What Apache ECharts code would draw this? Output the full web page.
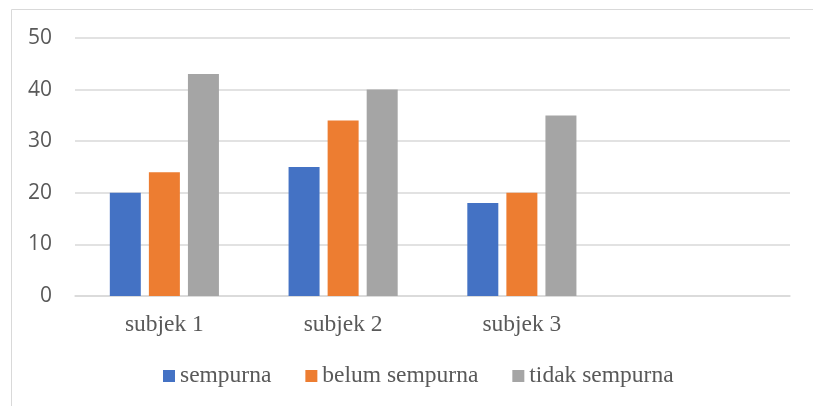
<!DOCTYPE html>
<html><head><meta charset="utf-8">
<script src="https://cdn.jsdelivr.net/npm/echarts@6/dist/echarts.min.js"></script>
<style>html,body{margin:0;padding:0;background:#fff}#c{width:813px;height:406px}</style>
</head><body><div id="c"></div>
<script>
var categories = ['subjek 1', 'subjek 2', 'subjek 3', ''];
var sempurna = [20, 25, 18, null];
var belumSempurna = [24, 34, 20, null];
var tidakSempurna = [43, 40, 35, null];
var seriesNames = ['sempurna', 'belum sempurna', 'tidak sempurna'];
var colors = ['#4472C4', '#ED7D31', '#A5A5A5'];

var chart = echarts.init(document.getElementById('c'));
var mk = function (name, data, color) {
  return { name: name, type: 'bar', data: data, itemStyle: { color: color },
    barWidth: 31, barGap: '26%', barCategoryGap: '39%' };
};
chart.setOption({
  animation: false,
  graphic: [{ type: 'rect', shape: { x: 11.5, y: 9.5, width: 830, height: 420 },
    style: { fill: 'none', stroke: '#D9D9D9', lineWidth: 1 }, silent: true }],
  grid: { left: 75, right: 23, top: 38, bottom: 110, containLabel: false },
  legend: {
    data: seriesNames, top: 364, left: 163, padding: 0, itemWidth: 12, itemHeight: 12, itemGap: 34,
    icon: 'rect',
    textStyle: { fontFamily: '"Liberation Serif", "Times New Roman", serif', fontSize: 23.5, color: '#595959' }
  },
  xAxis: {
    type: 'category', data: categories,
    axisLine: { lineStyle: { color: '#D9D9D9', width: 1.5 } },
    axisTick: { show: false },
    axisLabel: { fontFamily: '"Liberation Serif", "Times New Roman", serif', fontSize: 23.5, color: '#595959', margin: 17 }
  },
  yAxis: {
    type: 'value', min: 0, max: 50, interval: 10,
    axisLine: { show: false }, axisTick: { show: false },
    splitLine: { lineStyle: { color: '#D9D9D9', width: 1.5 } },
    axisLabel: { fontFamily: 'Open Sans', fontSize: 21, color: '#595959', margin: 23 }
  },
  series: [mk(seriesNames[0], sempurna, colors[0]), mk(seriesNames[1], belumSempurna, colors[1]), mk(seriesNames[2], tidakSempurna, colors[2])]
});
</script></body></html>
